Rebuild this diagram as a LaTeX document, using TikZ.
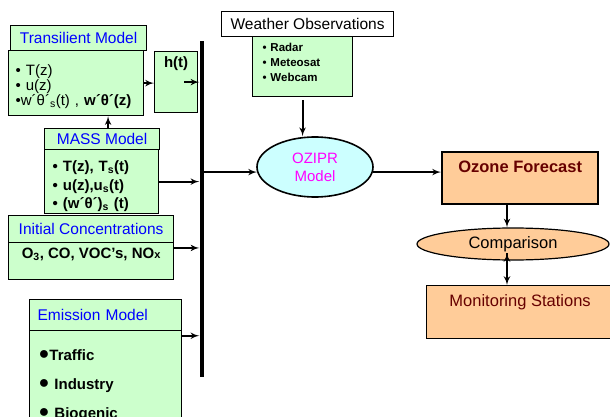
\documentclass[tikz,border=0pt]{standalone}
\usepackage{fontspec}
\setmainfont{Liberation Sans}
\usetikzlibrary{shapes, arrows, positioning}
\definecolor{leaf}{HTML}{CCFFCC}
\definecolor{sky}{HTML}{CCFFFF}
\definecolor{peach}{HTML}{FFCC99}
\definecolor{rust}{HTML}{660000}
\definecolor{ink}{HTML}{0000FF}
\definecolor{pink}{HTML}{FF00FF}
\newcommand{\fhead}{\fontsize{15.5}{18}\selectfont}
\newcommand{\fbody}{\fontsize{15}{15}\selectfont}
\newcommand{\fsmall}{\fontsize{11.5}{15}\selectfont}
\newcommand{\fright}{\fontsize{16.5}{19}\selectfont}
\newcommand{\bigdot}{\raisebox{1.5pt}{\fontsize{18}{18}\selectfont ●}}
\tikzstyle{->}     = [draw, line width=2pt, -latex']
\tikzstyle{head}   = [draw, line width=1.2pt, fill=leaf, anchor=north west, inner sep=0pt, text=ink, font=\fhead]
\tikzstyle{box}    = [draw, line width=1.2pt, fill=leaf, anchor=north west, inner sep=0pt, align=left, font=\fbody]
\tikzstyle{oval}   = [draw, ellipse, inner sep=0pt]
\tikzstyle{result} = [draw, fill=peach, anchor=north west, inner sep=0pt, text=rust]
\tikzstyle{bus}    = [fill=black, inner sep=0pt, minimum width=4pt, minimum height=336pt]

\begin{document}
\begin{tikzpicture}[x=1pt, y=-1pt]
\useasboundingbox (0,0) rectangle (610,417);

% nodes
\node [head, minimum width=136, minimum height=25]  at (10,25)  (transT) {Transilient Model};
\node [box, minimum width=135, minimum height=65, text width=121, text height=25, text depth=40] at (8,50) (transB)
      {• T(z)\\ • u(z)\\ •w´θ´\textsubscript{s}(t) , \textbf{w´θ´(z)}};
\node [box, minimum width=43, minimum height=61, text height=16, text depth=45, align=center, font=\fbody\bfseries] at (154,51) (ht) {h(t)};
\node [head, minimum width=115, minimum height=21]  at (44,128) (massT)  {MASS Model};
\node [box, minimum width=114, minimum height=64, text width=98, text height=22, text depth=42, font=\fontsize{15}{18.5}\selectfont\bfseries] at (44,149) (massB)
      {• T(z), T\textsubscript{s}(t)\\ • u(z),u\textsubscript{s}(t)\\ • (w´θ´)\textsubscript{s} (t)};
\node [head, minimum width=165, minimum height=27]  at (8,215)  (initT)  {Initial Concentrations};
\node [box, minimum width=165, minimum height=37, text height=16, text depth=21, align=center, font=\fbody\bfseries] at (8,242) (initB)
      {O\textsubscript{3}, CO, VOC’s, NO{\fontsize{11}{11}\selectfont x}};
\node [head, minimum width=152, minimum height=31, text width=136, align=left] at (29,299) (emisT) {Emission Model};
\node [box, minimum width=152, minimum height=106, text width=134, text height=30, text depth=76, font=\fontsize{15}{29}\selectfont\bfseries] at (29,330) (emisB)
      {\bigdot Traffic\\ \bigdot\ Industry\\ \bigdot\ Biogenic};
\node [head, minimum width=172, minimum height=25, fill=white, text=black] at (221,11) (wxT) {Weather Observations};
\node [box, minimum width=100, minimum height=60, text width=80, text height=15, text depth=45, font=\fsmall\bfseries] at (252,36) (wxB)
      {• Radar\\ • Meteosat\\ • Webcam};
\node [oval, fill=sky, line width=1.6pt, minimum width=116, minimum height=60, text=pink, align=center, font=\fontsize{15}{18}\selectfont] at (315,167) (ozipr) {OZIPR\\Model};
\node [result, line width=2.4pt, minimum width=156, minimum height=52, text height=20, text depth=32, font=\fright\bfseries] at (441,151) (fcst) {Ozone Forecast};
\node [oval, fill=peach, line width=1.2pt, minimum width=192, minimum height=32, font=\fright] at (513,244) (comp) {Comparison};
\node [result, line width=1.2pt, minimum width=187, minimum height=53, text height=21, text depth=32, font=\fright] at (426,285) (mon) {Monitoring Stations};
\node [bus] at (201.5,209) (bus) {};
\coordinate (cin) at (507,253);

% edges
\path [->] (transB.east)             edge (transB.east -| ht.west)
           ([xshift=8pt]ht.center)    edge (ht.center -| bus.west)
           (transB.-46 |- massT.north) edge (transB.-46)
           (massB.east)              edge (massB.east -| bus.west)
           (initB.9)                 edge (initB.9 -| bus.west)
           (emisB.32)                edge (emisB.32 -| bus.west)
           (wxB.south)               edge [shorten <=3pt] (wxB.south |- ozipr.north)
           (bus.east |- ozipr.185)   edge (ozipr.185)
           (ozipr.355)               edge (ozipr.355 -| fcst.west)
           (cin |- fcst.south)       edge (cin |- comp.north)
           (cin)                     edge (cin |- mon.north);

\end{tikzpicture}
\end{document}
